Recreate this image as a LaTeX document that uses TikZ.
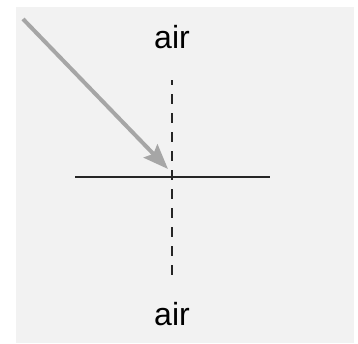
\documentclass[tikz,border=0pt]{standalone}
\usepackage{fontspec}
\setmainfont{Liberation Sans}
\usepackage{tikz}
\usetikzlibrary{arrows.meta}
\tikzset{
  panel/.style={fill=black!5, draw=none},
  surface/.style={draw=black!85, line width=2.6pt},
  normal/.style={draw=black!85, line width=2.6pt, dash pattern=on 10pt off 9pt, dash phase=5pt},
  ray/.style={draw=black!35, line width=4pt, -{Stealth[length=25pt,width=19pt,inset=4pt]}}
}

\begin{document}
\begin{tikzpicture}[x=1pt, y=-1pt, lbl/.style={font=\fontsize{32}{36}\selectfont, inner sep=0pt, anchor=base}]
\useasboundingbox (0,0) rectangle (358,343);
\fill[panel] (16,7) rectangle (354,343);
% labels
\node[lbl] (airtop) at (172,48) {air};
\node[lbl] (airbot) at (172,325) {air};
% boundary and normal
\coordinate (sl) at (75,177);
\coordinate (sr) at (270,177);
\coordinate (ntop) at (172,80);
\coordinate (nbot) at (172,275);
\draw[surface] (sl) -- (sr);
\draw[normal] (ntop) -- (nbot);
% incoming ray
\coordinate (src) at (23,19);
\coordinate (hit) at (168,169);
\draw[ray] (src) -- (hit);
\end{tikzpicture}
\end{document}
